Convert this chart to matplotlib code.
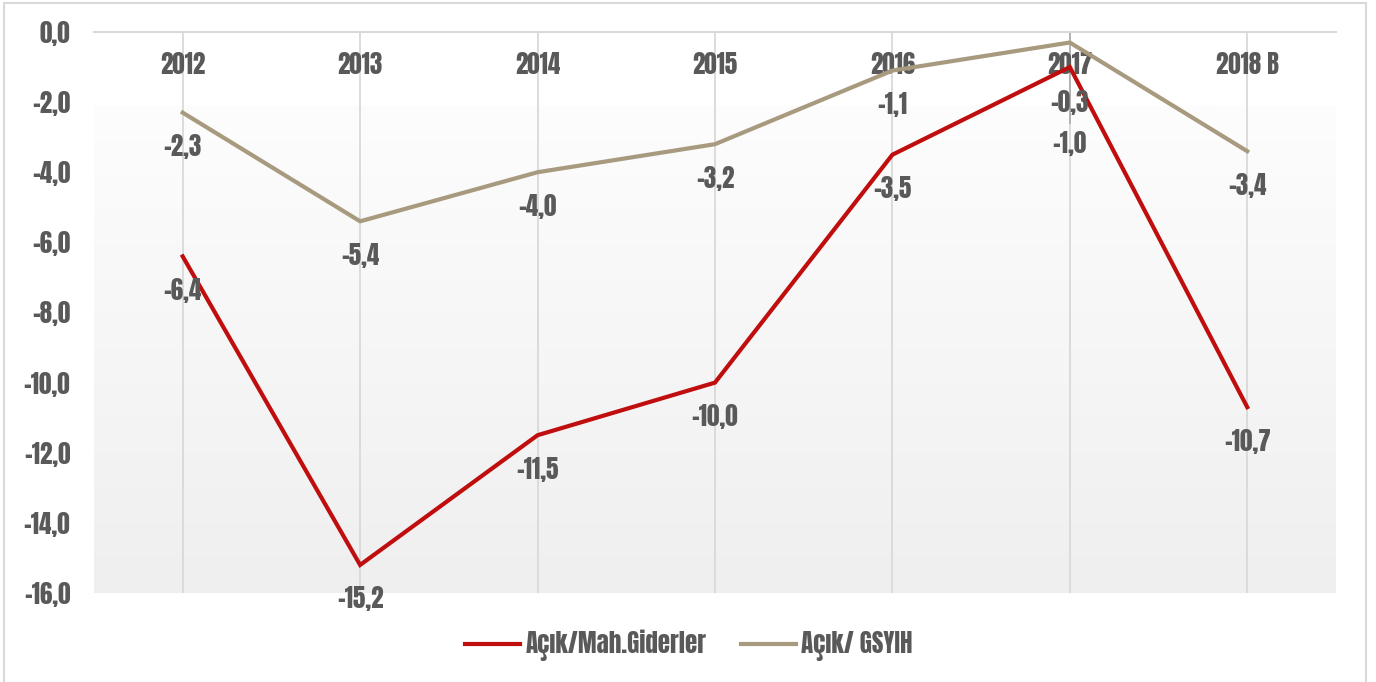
import matplotlib
matplotlib.use("Agg")
import matplotlib.pyplot as plt
import numpy as np
from matplotlib.patches import Rectangle
from matplotlib.transforms import offset_copy

years = ["2012", "2013", "2014", "2015", "2016", "2017", "2018 B"]
mah_giderler = [-6.4, -15.2, -11.5, -10.0, -3.5, -1.0, -10.7]
gsyih = [-2.3, -5.4, -4.0, -3.2, -1.1, -0.3, -3.4]
series_names = ["Açık/Mah.Giderler", "Açık/ GSYIH"]
y_ticks = [0, -2, -4, -6, -8, -10, -12, -14, -16]

RED = "#c00d0d"
TAN = "#a89a7e"
TXT = "#595959"
GRID = "#d9d9d9"

plt.rcParams["font.family"] = ["Anton", "DejaVu Sans"]
FS = 18


def fmt(v):
    return f"{v:.1f}".replace(".", ",")


fig = plt.figure(figsize=(13.76, 6.82), dpi=100)
fig.patches.append(Rectangle((0.003, -0.01), 0.9895, 1.006, transform=fig.transFigure,
                             fill=False, edgecolor=GRID, linewidth=1.5))
ax = fig.add_axes([0.0683, 0.1305, 0.9026, 0.8226])

x = np.arange(len(years))
ax.set_xlim(-0.5, len(years) - 0.5)
ax.set_ylim(-16, 0)

# gradient plot area
grad = np.linspace(0, 1, 256).reshape(-1, 1)
ax.imshow(grad, extent=(-0.5, len(years) - 0.5, -16, -2.1), aspect="auto",
          cmap=matplotlib.colors.LinearSegmentedColormap.from_list("g", ["#fdfdfd", "#efefef"]),
          zorder=0)

for xi in x:
    ax.axvline(xi, color=GRID, lw=1.3, zorder=1)
ax.plot([5, 5], [0, -2.6], color="#b0b0b0", lw=1.3, zorder=1)
ax.axhline(0, color=GRID, lw=1.5, zorder=1, clip_on=False)

ax.plot(x, mah_giderler, color=RED, lw=3, label=series_names[0], zorder=3,
        solid_joinstyle="miter")
ax.plot(x, gsyih, color=TAN, lw=3, label=series_names[1], zorder=3,
        solid_joinstyle="miter")

for xi, name in zip(x, years):
    ax.text(xi, 0, name, transform=offset_copy(ax.transData, fig, y=-33, units="dots"),
            ha="center", va="center", fontsize=FS, color=TXT, zorder=2)

label_offsets = {5: (-76, -60)}
for i, (r, t) in enumerate(zip(mah_giderler, gsyih)):
    off_r, off_t = label_offsets.get(i, (-34, -34))
    ax.text(i, r, fmt(r), transform=offset_copy(ax.transData, fig, y=off_r, units="dots"),
            ha="center", va="center", fontsize=FS, color=TXT, zorder=4)
    ax.text(i, t, fmt(t), transform=offset_copy(ax.transData, fig, y=off_t, units="dots"),
            ha="center", va="center", fontsize=FS, color=TXT, zorder=4)

ax.set_xticks([])
ax.set_yticks(y_ticks)
ax.set_yticklabels([fmt(v) for v in y_ticks], fontsize=FS, color=TXT)
ax.tick_params(axis="y", length=0, pad=17)
for s in ax.spines.values():
    s.set_visible(False)

fig.legend(loc="center", bbox_to_anchor=(0.5007, 0.054), ncol=2, frameon=False,
           fontsize=FS, handlelength=2.2, handletextpad=0.2, columnspacing=1.4,
           labelcolor=TXT)

fig.savefig("out.png", dpi=100)
